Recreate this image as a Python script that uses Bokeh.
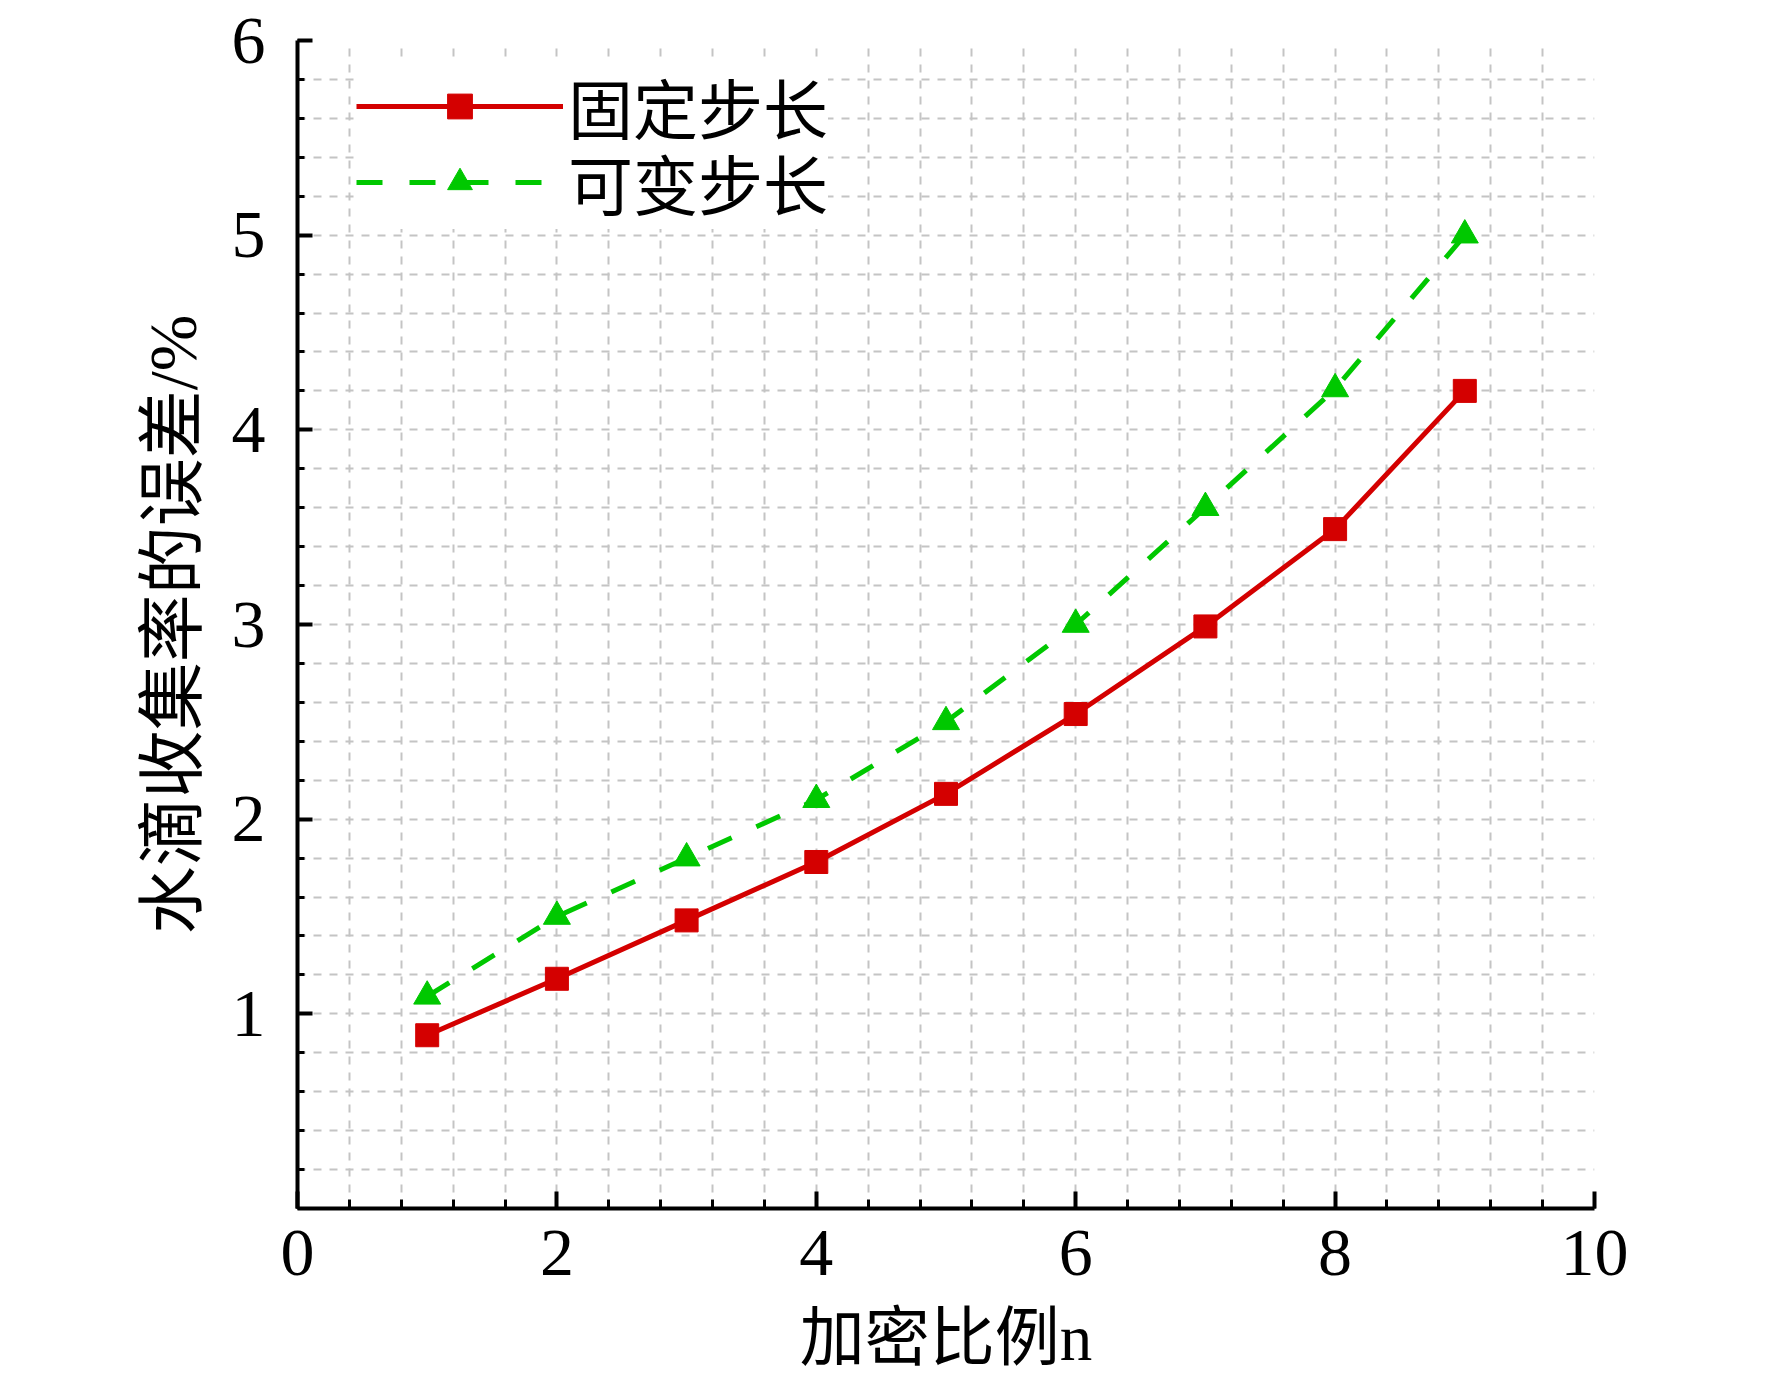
from bokeh.plotting import figure
from bokeh.models import Range1d, FixedTicker, Legend, LegendItem
from bokeh.embed import file_html
from bokeh.resources import INLINE

# ---- data ----
n_values = [1, 2, 3, 4, 5, 6, 7, 8, 9]
fixed_step = [0.89, 1.18, 1.48, 1.78, 2.13, 2.54, 2.99, 3.49, 4.20]
variable_step = [1.09, 1.50, 1.80, 2.10, 2.50, 3.00, 3.60, 4.21, 5.00]
series_labels = ["固定步长", "可变步长"]
x_title = "加密比例n"
y_title = "水滴收集率的误差/%"
x_major = [0, 2, 4, 6, 8, 10]
x_minor = [round(0.4 * i, 1) for i in range(26)]
y_major = [1, 2, 3, 4, 5, 6]
y_minor = [round(0.2 * i, 1) for i in range(31)]

RED = "#d40000"
GREEN = "#00c800"
SERIF = "Liberation Serif"
CJK = "'Liberation Serif', 'Noto Sans CJK SC'"

W = 1772
H = 1385
FRAME_TOP = 40
FRAME_BOTTOM = 1208

p = figure(width=W, height=H, output_backend="svg", toolbar_location=None,
           x_range=Range1d(0, 10), y_range=Range1d(0, 6),
           min_border_left=297, min_border_right=W - 1594,
           min_border_top=FRAME_TOP, min_border_bottom=H - FRAME_BOTTOM)
p.outline_line_color = None
p.background_fill_color = "white"

# grid
p.xgrid.ticker = FixedTicker(ticks=x_minor)
p.ygrid.ticker = FixedTicker(ticks=y_minor)
for g in (p.xgrid[0], p.ygrid[0]):
    g.grid_line_color = "#c4c4c4"
    g.grid_line_width = 2
    g.grid_line_dash = "8 8"

# axes
p.xaxis.ticker = FixedTicker(ticks=x_major, minor_ticks=x_minor)
p.yaxis.ticker = FixedTicker(ticks=y_major, minor_ticks=y_minor)
for ax in (p.xaxis[0], p.yaxis[0]):
    ax.axis_line_width = 4
    ax.axis_line_color = "black"
    ax.major_tick_line_width = 4
    ax.minor_tick_line_width = 3
    ax.major_tick_line_color = "black"
    ax.minor_tick_line_color = "black"
    ax.major_tick_out = 0
    ax.minor_tick_out = 0
    ax.major_label_text_font = SERIF
    ax.major_label_text_font_size = "68px"
    ax.major_label_text_color = "black"
    ax.axis_label_text_font = CJK
    ax.axis_label_text_font_style = "normal"
    ax.axis_label_text_color = "black"
p.xaxis.major_tick_in = 17
p.xaxis.minor_tick_in = 9
p.yaxis.major_tick_in = 15
p.yaxis.minor_tick_in = 7
p.xaxis.major_label_standoff = 22
p.yaxis.major_label_standoff = 32

p.xaxis.axis_label = x_title
p.xaxis.axis_label_text_font_size = "65px"
p.xaxis.axis_label_standoff = 24
p.yaxis.axis_label = y_title
p.yaxis.axis_label_text_font_size = "68px"
p.yaxis.axis_label_standoff = 18

# series
r1 = p.line(n_values, fixed_step, line_color=RED, line_width=5)
s1 = p.scatter(n_values, fixed_step, marker="square", size=23, fill_color=RED, line_color=RED)
r2 = p.line(n_values, variable_step, line_color=GREEN, line_width=5, line_dash="26 27")
s2 = p.scatter(n_values, variable_step, marker="triangle", size=27, fill_color=GREEN, line_color=GREEN)

legend_style = dict(glyph_width=207, glyph_height=62,
                    label_text_font=CJK, label_text_font_size="65px",
                    label_text_color="black", spacing=0, padding=0, margin=0,
                    label_standoff=5, border_line_color=None,
                    background_fill_color="white", background_fill_alpha=1.0)
legend2 = Legend(items=[LegendItem(label=series_labels[1], renderers=[r2, s2])],
                 location=(59, 979), **legend_style)
legend1 = Legend(items=[LegendItem(label=series_labels[0], renderers=[r1, s1])],
                 location=(59, 1055), **legend_style)
p.add_layout(legend2)
p.add_layout(legend1)

open("out.html", "w").write(file_html(p, INLINE))
